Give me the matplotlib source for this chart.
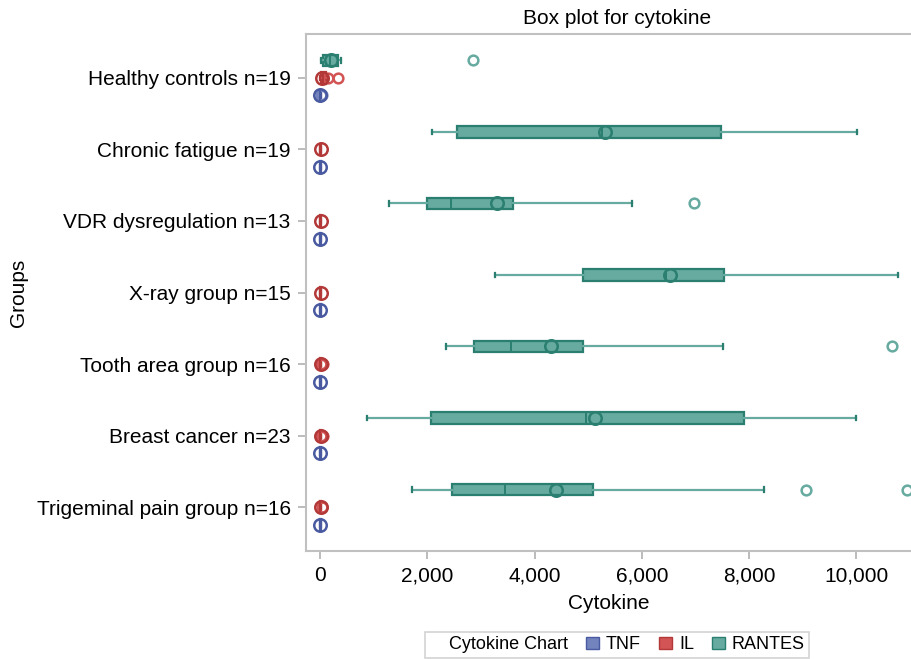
import matplotlib.pyplot as plt
from matplotlib.patches import Patch
from matplotlib.lines import Line2D

plt.rcParams['font.family'] = ['Liberation Sans', 'DejaVu Sans']

grupos = ['Healthy controls n=19', 'Chronic fatigue n=19', 'VDR dysregulation n=13',
          'X-ray group n=15', 'Tooth area group n=16', 'Breast cancer n=23',
          'Trigeminal pain group n=16']

# RANTES: min, Q1, mediana, Q3, max, media, atipicos
rantes_min = [20, 2090, 1290, 3270, 2350, 880, 1710]
rantes_q1 = [60, 2550, 2000, 4900, 2870, 2060, 2460]
rantes_med = [190, 5250, 2440, 6450, 3560, 4950, 3440]
rantes_q3 = [330, 7480, 3600, 7530, 4910, 7910, 5080]
rantes_max = [400, 10010, 5820, 10780, 7520, 10000, 8270]
rantes_media = [210, 5320, 3290, 6520, 4300, 5130, 4400]
rantes_atip = [[2860], [], [6970], [], [10670], [], [9060, 10950]]

# IL
il_min = [0, 2, 2, 2, 2, 2, 2]
il_q1 = [20, 5, 5, 5, 5, 5, 5]
il_med = [60, 9, 9, 9, 9, 9, 9]
il_q3 = [120, 14, 14, 14, 14, 14, 14]
il_max = [140, 25, 25, 25, 25, 25, 25]
il_media = [40, 10, 10, 10, 12, 12, 11]
il_atip = [[150, 340], [], [], [], [20, 35, 50], [20, 35, 50], [30]]

# TNF
tnf_min = [0, 1, 1, 1, 1, 1, 1]
tnf_q1 = [3, 3, 3, 3, 3, 3, 3]
tnf_med = [6, 6, 6, 6, 6, 6, 6]
tnf_q3 = [10, 10, 10, 10, 10, 10, 10]
tnf_max = [15, 15, 15, 15, 15, 15, 15]
tnf_media = [8, 7, 7, 7, 7, 7, 7]
tnf_atip = [[20, 30], [], [], [], [], [], []]

colores = {
    'TNF': ('#7283be', '#4a5aa0'),
    'IL': ('#d25454', '#b33838'),
    'RANTES': ('#66aaa0', '#2a7f70'),
}


def armar_stats(mn, q1, med, q3, mx, media, atip):
    stats = []
    for i in range(len(mn)):
        stats.append({'whislo': mn[i], 'q1': q1[i], 'med': med[i], 'q3': q3[i],
                      'whishi': mx[i], 'mean': media[i], 'fliers': atip[i]})
    return stats


fig = plt.figure(figsize=(9.11, 6.59), dpi=100)
ax = fig.add_axes([306 / 911, 108 / 659, 1 - 306 / 911, (551 - 34) / 659])

series = [
    ('RANTES', armar_stats(rantes_min, rantes_q1, rantes_med, rantes_q3, rantes_max, rantes_media, rantes_atip), -0.245),
    ('IL', armar_stats(il_min, il_q1, il_med, il_q3, il_max, il_media, il_atip), 0.0),
    ('TNF', armar_stats(tnf_min, tnf_q1, tnf_med, tnf_q3, tnf_max, tnf_media, tnf_atip), 0.245),
]

for nombre, stats, desplazamiento in series:
    relleno, borde = colores[nombre]
    pos = [i + desplazamiento for i in range(len(grupos))]
    ax.bxp(stats, positions=pos, vert=False, widths=0.16, patch_artist=True,
           showmeans=True, capwidths=0.06,
           boxprops=dict(facecolor=relleno, edgecolor=borde, linewidth=1.6),
           medianprops=dict(color=borde, linewidth=1.4),
           whiskerprops=dict(color=relleno, linewidth=1.6),
           capprops=dict(color=borde, linewidth=1.6),
           meanprops=dict(marker='o', markerfacecolor='none', markeredgecolor=borde,
                          markersize=9, markeredgewidth=1.8),
           flierprops=dict(marker='o', markerfacecolor='none', markeredgecolor=relleno,
                           markersize=7, markeredgewidth=1.8))

ax.set_xlim(-261, 11016)
ax.set_ylim(6.615, -0.615)
ax.set_yticks(range(len(grupos)))
ax.set_yticklabels(grupos, fontsize=15)
ax.set_xticks([0, 2000, 4000, 6000, 8000, 10000])
ax.set_xticklabels(['0', '2,000', '4,000', '6,000', '8,000', '10,000'], fontsize=15)
ax.tick_params(axis='both', color='#b0b0b0', length=6, width=1.2, pad=5)
for lado in ['left', 'bottom', 'top']:
    ax.spines[lado].set_color('#c0c0c0')
    ax.spines[lado].set_linewidth(1.5)
ax.spines['right'].set_visible(False)

ax.set_xlabel('Cytokine', fontsize=15, labelpad=6)
ax.set_ylabel('Groups', fontsize=15, labelpad=6)
fig.text(617 / 911, 1 - 19 / 659, 'Box plot for cytokine', fontsize=15, ha='center', va='center')

manijas = [Line2D([], [], linestyle='none'),
           Patch(facecolor=colores['TNF'][0], edgecolor=colores['TNF'][1]),
           Patch(facecolor=colores['IL'][0], edgecolor=colores['IL'][1]),
           Patch(facecolor=colores['RANTES'][0], edgecolor=colores['RANTES'][1])]
etiquetas = ['Cytokine Chart', 'TNF', 'IL', 'RANTES']
leg = fig.legend(manijas, etiquetas, ncol=4, loc='lower center', bbox_to_anchor=(617 / 911, -0.012),
                 fontsize=13, frameon=True, fancybox=False, handlelength=0.7, handleheight=0.7,
                 handletextpad=0.4, columnspacing=1.0, borderpad=0.25)
leg.get_frame().set_edgecolor('#c8c8c8')
leg.get_frame().set_linewidth(1.2)

plt.savefig('out.png')
plt.close()
